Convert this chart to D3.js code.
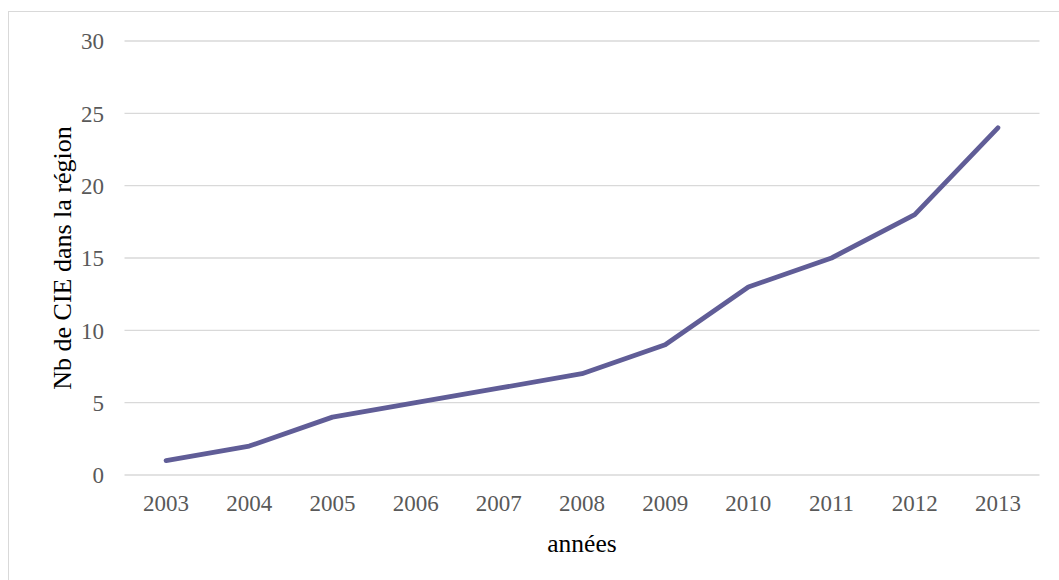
<!DOCTYPE html>
<html>
<head>
<meta charset="utf-8">
<script src="https://cdn.jsdelivr.net/npm/d3@7"></script>
<style>
  html, body { margin: 0; padding: 0; background: #fff; }
  svg { display: block; }
</style>
</head>
<body>
<svg id="chart" width="1059" height="580"></svg>
<script>
// Number of CIE in the region per year
const years = ["2003", "2004", "2005", "2006", "2007", "2008", "2009", "2010", "2011", "2012", "2013"];
const counts = [1, 2, 4, 5, 6, 7, 9, 13, 15, 18, 24];
const yTicks = [0, 5, 10, 15, 20, 25, 30];

const svg = d3.select("#chart");
const margin = { left: 124.5, right: 1039.5, top: 41, bottom: 475 };
const serif = "'Liberation Serif', 'Times New Roman', serif";

// outer frame
svg.append("rect")
  .attr("x", 8.5).attr("y", 11.5)
  .attr("width", 1060).attr("height", 580)
  .attr("fill", "#fff")
  .attr("stroke", "#d9d9d9").attr("stroke-width", 1);

const x = d3.scaleBand().domain(years).range([margin.left, margin.right]);
const y = d3.scaleLinear().domain([0, 30]).range([margin.bottom, margin.top]);

// horizontal gridlines
svg.append("g")
  .selectAll("line")
  .data(yTicks)
  .join("line")
  .attr("x1", margin.left).attr("x2", margin.right)
  .attr("y1", d => y(d)).attr("y2", d => y(d))
  .attr("stroke", "#d9d9d9").attr("stroke-width", 1.3);

// y axis labels
const yAxis = svg.append("g")
  .attr("transform", `translate(104,0)`)
  .call(d3.axisLeft(y).tickValues(yTicks).tickSize(0).tickPadding(0));
yAxis.select(".domain").remove();
yAxis.selectAll("text")
  .attr("font-family", serif).attr("font-size", 23).attr("fill", "#595959")
  .attr("dy", "0.34em");

// x axis labels
const xAxis = svg.append("g")
  .attr("transform", `translate(0,${margin.bottom})`)
  .call(d3.axisBottom(x).tickSize(0));
xAxis.select(".domain").remove();
xAxis.selectAll("text")
  .attr("font-family", serif).attr("font-size", 23).attr("fill", "#595959")
  .attr("y", 36).attr("dy", 0);

// data line
const line = d3.line()
  .x((d, i) => x(years[i]) + x.bandwidth() / 2)
  .y(d => y(d));
svg.append("path")
  .datum(counts)
  .attr("d", line)
  .attr("fill", "none")
  .attr("stroke", "#605d97")
  .attr("stroke-width", 4.8)
  .attr("stroke-linecap", "round")
  .attr("stroke-linejoin", "round");

// axis titles
svg.append("text")
  .attr("x", 582).attr("y", 552)
  .attr("text-anchor", "middle")
  .attr("font-family", serif).attr("font-size", 25.5).attr("fill", "#000")
  .text("années");

svg.append("text")
  .attr("transform", `translate(71,258) rotate(-90)`)
  .attr("text-anchor", "middle")
  .attr("font-family", serif).attr("font-size", 26).attr("fill", "#000")
  .text("Nb de CIE dans la région");
</script>
</body>
</html>
